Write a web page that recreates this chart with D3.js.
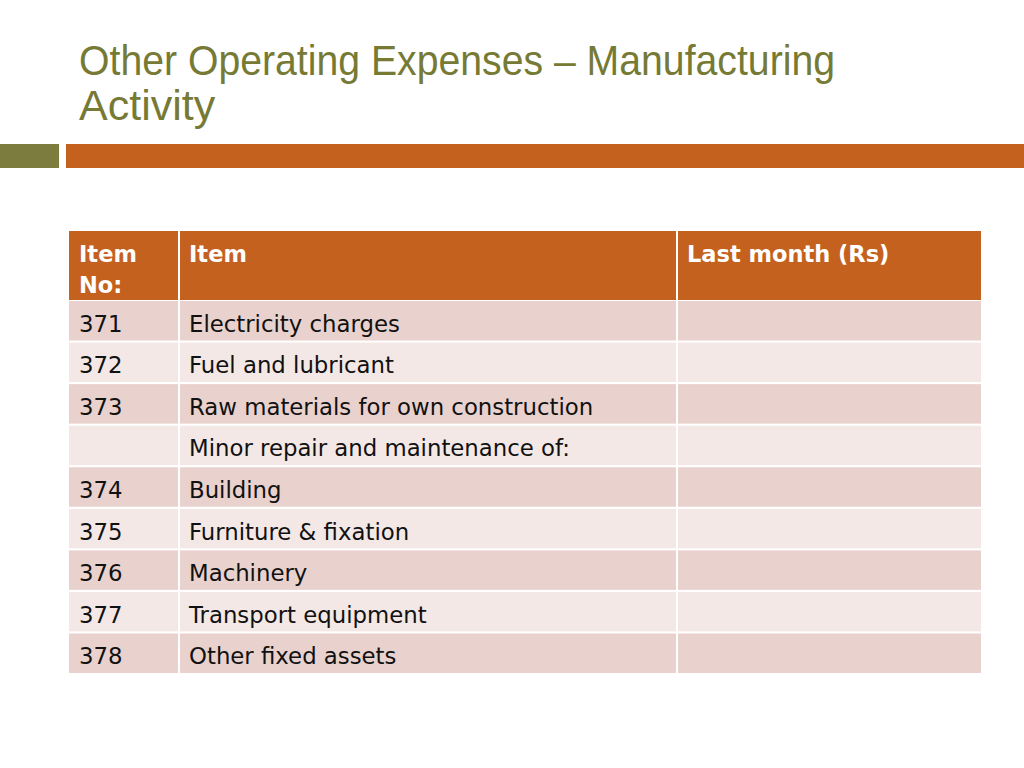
<!DOCTYPE html>
<html>
<head>
<meta charset="utf-8">
<script src="https://cdn.jsdelivr.net/npm/d3@7"></script>
<style>
  html, body { margin: 0; padding: 0; background: #ffffff; }
  svg { display: block; }
</style>
</head>
<body>
<svg id="chart" width="1024" height="768"></svg>
<script>
// ---- data ----
const titleLines = ["Other Operating Expenses \u2013 Manufacturing", "Activity"];
const headers = [["Item", "No:"], ["Item"], ["Last month (Rs)"]];
const itemNos = ["371", "372", "373", "", "374", "375", "376", "377", "378"];
const items = [
  "Electricity charges",
  "Fuel and lubricant",
  "Raw materials for own construction",
  "Minor repair and maintenance of:",
  "Building",
  "Furniture & fixation",
  "Machinery",
  "Transport equipment",
  "Other fixed assets"
];
const lastMonth = ["", "", "", "", "", "", "", "", ""];

// ---- layout ----
const svg = d3.select("#chart");
const W = 1024;
const olive = "#7b7c3d";
const orange = "#c5611f";
const rowOdd = "#e9d1cd";
const rowEven = "#f4e8e7";
const bodyFont = "'DejaVu Sans', Tahoma, sans-serif";

// title
svg.selectAll("text.title")
  .data(titleLines)
  .join("text")
  .attr("class", "title")
  .attr("x", 79)
  .attr("y", (d, i) => 75 + i * 45)
  .attr("fill", "#767a35")
  .attr("font-family", "'Liberation Sans Narrow', 'Arial Narrow', sans-serif")
  .attr("font-size", 43)
  .text(d => d)
  .each(function(d, i) {
    if (i === 0) d3.select(this).attr("textLength", 756).attr("lengthAdjust", "spacingAndGlyphs");
  });

// decorative bars
svg.append("rect").attr("x", 0).attr("y", 144).attr("width", 59).attr("height", 24).attr("fill", olive);
svg.append("rect").attr("x", 66).attr("y", 144).attr("width", W - 66).attr("height", 24).attr("fill", orange);

// table columns
const colEdges = [69, 179, 677, 981];
const x = i => colEdges[i];
const tableTop = 231, headerBottom = 300, tableBottom = 674;

const yRow = d3.scaleBand()
  .domain(d3.range(items.length))
  .range([headerBottom, tableBottom])
  .paddingInner(0.05)
  .paddingOuter(0.025);

// header background
svg.append("rect")
  .attr("x", colEdges[0]).attr("y", tableTop)
  .attr("width", colEdges[3] - colEdges[0]).attr("height", headerBottom - tableTop)
  .attr("fill", orange);

// header texts
headers.forEach((lines, c) => {
  svg.append("g").selectAll("text")
    .data(lines)
    .join("text")
    .attr("x", x(c) + 10)
    .attr("y", (d, i) => 262 + i * 31)
    .attr("fill", "#ffffff")
    .attr("font-family", bodyFont)
    .attr("font-weight", "bold")
    .attr("font-size", 22.5)
    .text(d => d);
});

// body rows
const rows = d3.range(items.length).map(i => [itemNos[i], items[i], lastMonth[i]]);
const rowG = svg.append("g").selectAll("g")
  .data(rows)
  .join("g")
  .attr("transform", (d, i) => `translate(0,${yRow(i)})`);

rowG.append("rect")
  .attr("x", colEdges[0])
  .attr("width", colEdges[3] - colEdges[0])
  .attr("height", yRow.bandwidth())
  .attr("fill", (d, i) => i % 2 === 0 ? rowOdd : rowEven);

rowG.selectAll("text")
  .data(d => d)
  .join("text")
  .attr("x", (d, c) => x(c) + 10)
  .attr("y", yRow.bandwidth() / 2 + 11)
  .attr("fill", "#111111")
  .attr("font-family", bodyFont)
  .attr("font-size", 22.8)
  .text(d => d);

// vertical white separators
svg.append("g").selectAll("line")
  .data([1, 2])
  .join("line")
  .attr("x1", c => x(c)).attr("x2", c => x(c))
  .attr("y1", tableTop).attr("y2", tableBottom)
  .attr("stroke", "#ffffff")
  .attr("stroke-width", 2);
</script>
</body>
</html>
